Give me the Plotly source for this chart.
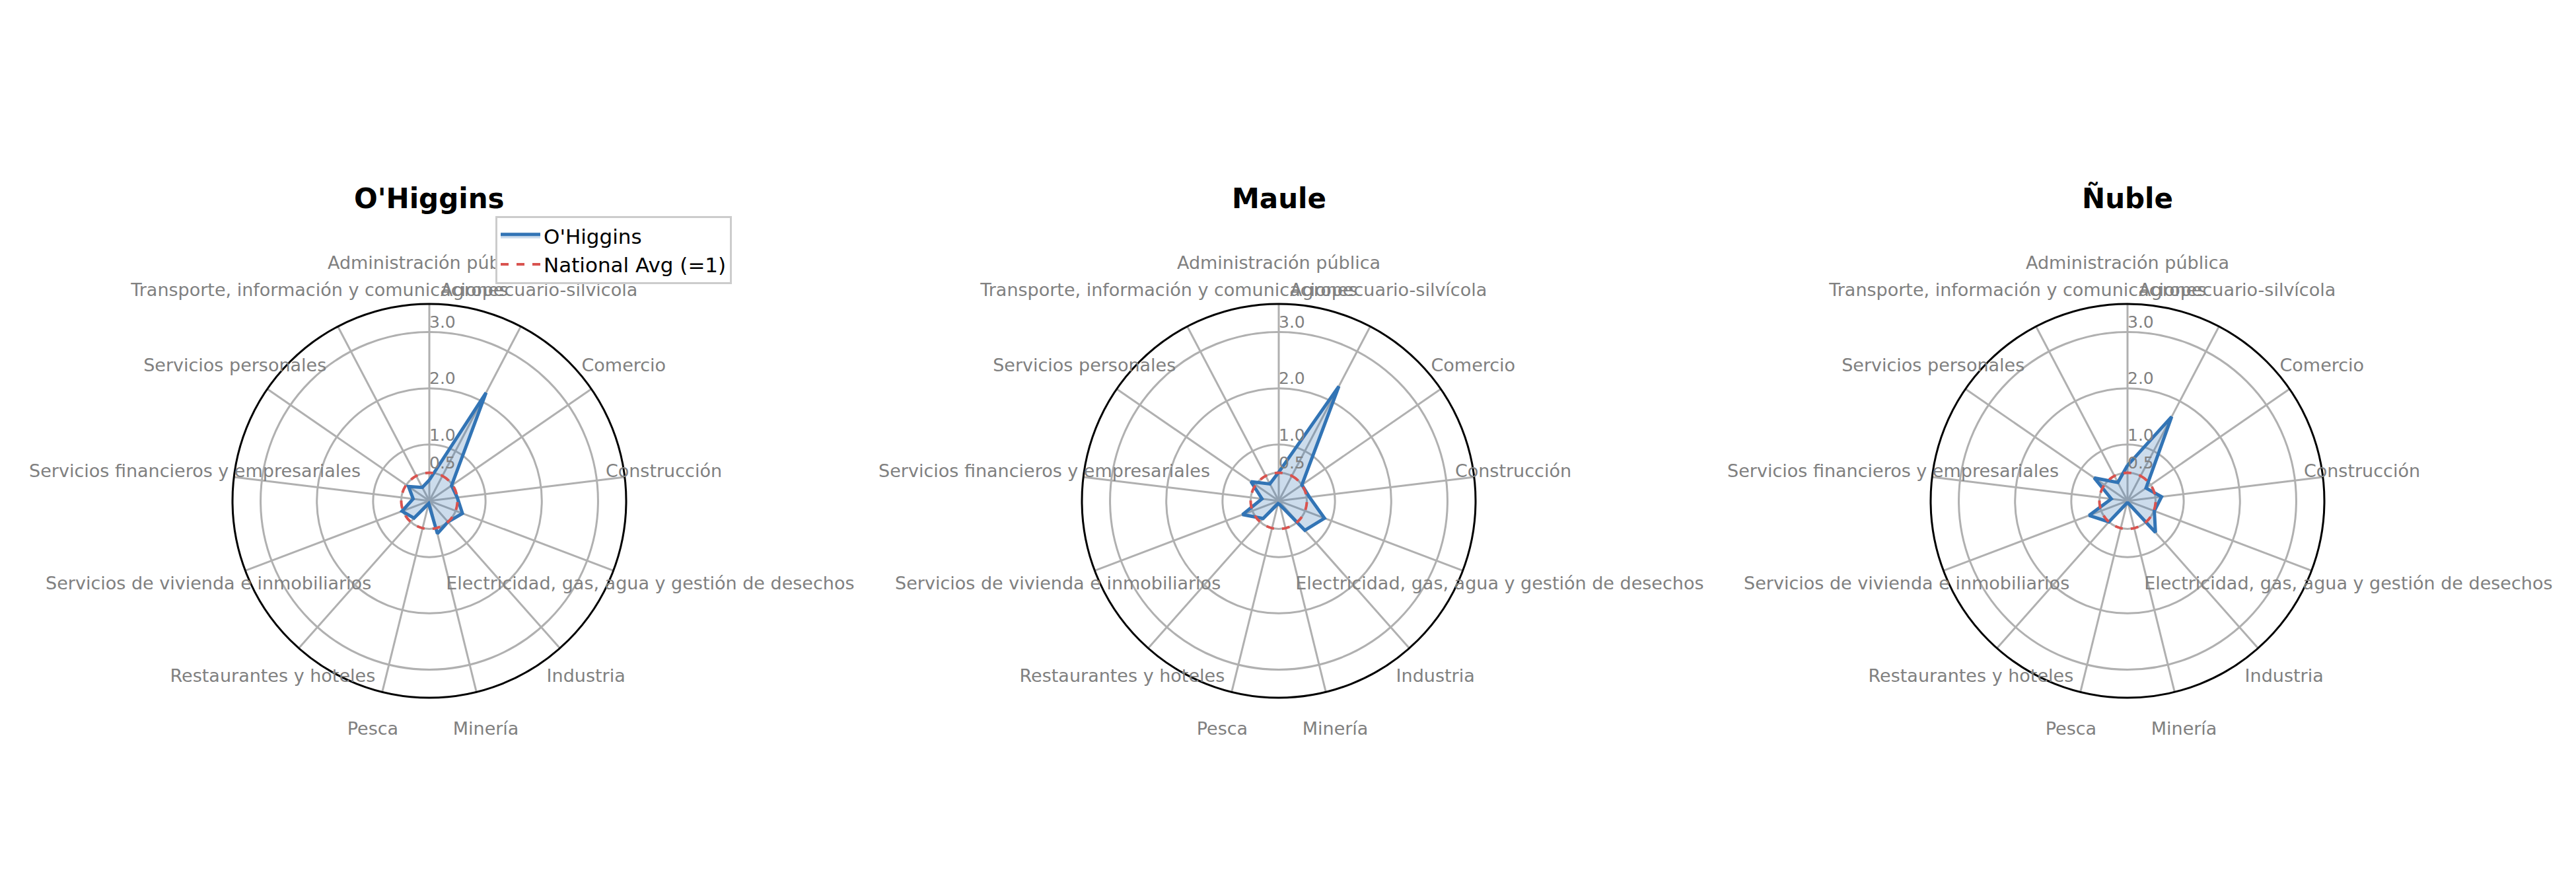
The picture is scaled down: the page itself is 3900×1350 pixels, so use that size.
import plotly.graph_objects as go

# sectors (clockwise from top)
sectors = [
    "Administración pública",
    "Agropecuario-silvícola",
    "Comercio",
    "Construcción",
    "Electricidad, gas, agua y gestión de desechos",
    "Industria",
    "Minería",
    "Pesca",
    "Restaurantes y hoteles",
    "Servicios de vivienda e inmobiliarios",
    "Servicios financieros y empresariales",
    "Servicios personales",
    "Transporte, información y comunicaciones",
]

regions = ["O'Higgins", "Maule", "Ñuble"]

ohiggins = [0.37, 2.17, 0.48, 0.50, 0.63, 0.50, 0.60, 0.05, 0.41, 0.52, 0.29, 0.45, 0.27]
maule = [0.51, 2.30, 0.50, 0.55, 0.87, 0.70, 0.07, 0.05, 0.42, 0.69, 0.30, 0.60, 0.34]
nuble = [0.63, 1.69, 0.40, 0.61, 0.51, 0.75, 0.04, 0.04, 0.50, 0.73, 0.29, 0.72, 0.37]

# reference ring as drawn in the picture
national_avg = [0.5] * len(sectors)

r_ticks = [0.5, 1.0, 2.0, 3.0]
r_ticktext = ["0.5", "1.0", "2.0", "3.0"]
r_max = 3.5
label_r = 4.2

values = [ohiggins, maule, nuble]

W, H = 3900, 1350
OFF_X, OFF_Y = 8, 4  # page body margin
centers_x = [650 - OFF_X, 1936 - OFF_X, 3221 - OFF_X]
center_y = 754 - OFF_Y
R = 298
R_lab = R * label_r / r_max

BLUE = "#3274B5"
RED = "#D9534F"
GRID = "#B0B0B0"
LABEL = "#808080"
FONT = "DejaVu Sans"


def dom(cx, rad):
    return dict(x=[(cx - rad) / W, (cx + rad) / W],
                y=[(H - center_y - rad) / H, (H - center_y + rad) / H])


fig = go.Figure()

for i, (name, vals) in enumerate(zip(regions, values)):
    sp = "polar" if i == 0 else f"polar{i + 1}"
    sp_lab = f"polar{i + 4}"
    theta = sectors + [sectors[0]]
    cx = centers_x[i]

    fig.add_trace(go.Scatterpolar(
        r=vals + [vals[0]],
        theta=theta,
        mode="lines",
        name=name,
        line=dict(color=BLUE, width=5),
        fill="toself",
        fillcolor="rgba(50,116,181,0.25)",
        subplot=sp,
        showlegend=(i == 0),
        legendrank=1,
    ))
    fig.add_trace(go.Scatterpolar(
        r=national_avg + [national_avg[0]],
        theta=theta,
        mode="lines",
        name="National Avg (=1)",
        line=dict(color=RED, width=4, dash="dash", shape="spline"),
        subplot=sp,
        showlegend=(i == 0),
        legendrank=2,
    ))
    # radial tick labels
    fig.add_trace(go.Scatterpolar(
        r=r_ticks,
        theta=[sectors[0]] * len(r_ticks),
        mode="text",
        text=r_ticktext,
        textposition="top right",
        textfont=dict(family=FONT, size=25, color=LABEL),
        cliponaxis=False,
        hoverinfo="skip",
        showlegend=False,
        subplot=sp,
    ))
    # sector labels, centred outside the ring (on a transparent overlay polar)
    fig.add_trace(go.Scatterpolar(
        r=[label_r] * len(sectors),
        theta=sectors,
        mode="text",
        text=sectors,
        textposition="middle center",
        textfont=dict(family=FONT, size=27, color=LABEL),
        cliponaxis=False,
        hoverinfo="skip",
        showlegend=False,
        subplot=sp_lab,
    ))

    polar = dict(
        domain=dom(cx, R),
        bgcolor="white",
        radialaxis=dict(
            range=[0, r_max],
            tickvals=r_ticks,
            showticklabels=False,
            ticks="",
            showline=False,
            gridcolor=GRID,
            gridwidth=2.7,
            angle=90,
        ),
        angularaxis=dict(
            categoryorder="array",
            categoryarray=sectors,
            direction="clockwise",
            rotation=90,
            showticklabels=False,
            ticks="",
            gridcolor=GRID,
            gridwidth=2.7,
            showline=True,
            linecolor="black",
            linewidth=3,
        ),
    )
    polar_lab = dict(
        domain=dom(cx, R_lab),
        bgcolor="rgba(0,0,0,0)",
        radialaxis=dict(range=[0, label_r], visible=False, showgrid=False),
        angularaxis=dict(
            categoryorder="array",
            categoryarray=sectors,
            direction="clockwise",
            rotation=90,
            visible=False,
            showgrid=False,
            showline=False,
        ),
    )
    fig.update_layout({sp: polar, sp_lab: polar_lab})

    fig.add_annotation(
        x=cx / W, y=1 - (323 - OFF_Y) / H, xref="paper", yref="paper",
        xanchor="center", yanchor="bottom",
        text="<b>" + name + "</b>",
        showarrow=False,
        font=dict(family=FONT, size=42, color="black"),
    )

fig.update_layout(
    width=W,
    height=H,
    margin=dict(l=0, r=0, t=0, b=0),
    paper_bgcolor="white",
    plot_bgcolor="white",
    font=dict(family=FONT, color="black"),
    legend=dict(
        x=(750 - OFF_X) / W, y=1 - (323 - OFF_Y) / H,
        xanchor="left", yanchor="top",
        bgcolor="white",
        bordercolor="#CCCCCC",
        borderwidth=3,
        font=dict(family=FONT, size=31, color="black"),
        itemwidth=60,
    ),
)

fig.write_html("out.html")
